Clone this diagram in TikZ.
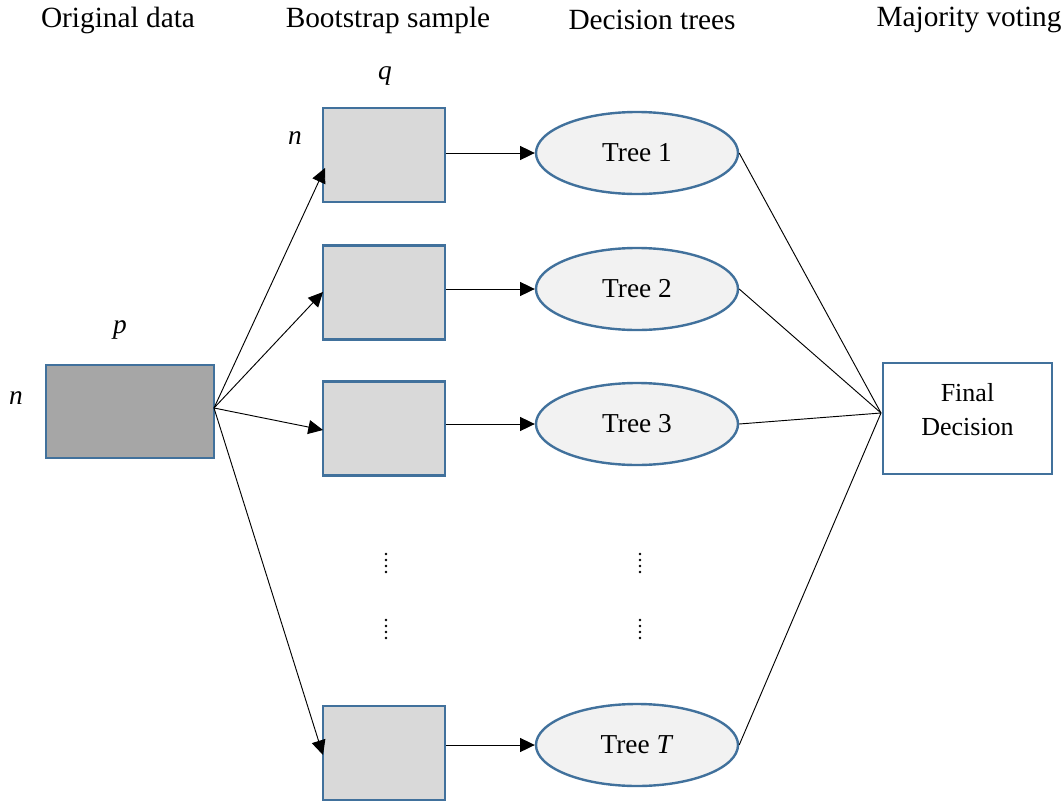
\documentclass[tikz,border=0pt]{standalone}
\usepackage{fontspec}
\setmainfont{Liberation Serif}
\usetikzlibrary{arrows.meta,shapes.geometric}
\definecolor{bord}{HTML}{41719C}
\definecolor{dark}{HTML}{A6A6A6}
\definecolor{light}{HTML}{D9D9D9}
\definecolor{pale}{HTML}{F2F2F2}
\begin{document}
\begin{tikzpicture}[x=0.75pt,y=-0.75pt,
  every node/.style={font=\fontsize{20.5}{26}\selectfont},
  head/.style={font=\fontsize{22}{26}\selectfont},
  databox/.style={draw=bord,line width=1.8pt,fill=dark,minimum width=126pt,minimum height=70pt,inner sep=0pt},
  sampbox/.style={draw=bord,line width=1.8pt,fill=light,minimum width=91.5pt,minimum height=70.5pt,inner sep=0pt},
  treenode/.style={draw=bord,line width=1.8pt,fill=pale,ellipse,minimum width=151.5pt,minimum height=61.5pt,inner sep=0pt},
  finalbox/.style={draw=bord,line width=1.8pt,fill=white,minimum width=126.75pt,minimum height=83.25pt,inner sep=0pt},
  fintext/.style={align=center,font=\fontsize{19.5}{26}\selectfont},
  arr/.style={-{Triangle[length=11pt,width=10.5pt]},line width=0.7pt},
  ln/.style={line width=0.7pt},
  dotm/.style={fill=black,circle,inner sep=0pt,minimum size=2.2pt}]
\useasboundingbox (0,0) rectangle (1064,803);
% headers
\node[head] (h1) at (118,20) {Original data};
\node[head] (h2) at (388,20) {Bootstrap sample};
\node[head] (h3) at (652,20) {Decision trees};
\node[head] (h4) at (969,20) {Majority voting};
% original data
\node[databox] (orig) at (130,411.5) {};
\node (p) at (120,330) {\itshape p};
\node (n0) at (16,398) {\itshape n};
% bootstrap boxes
\node[sampbox] (b1) at (384,155) {};
\node[sampbox] (b2) at (384,292.5) {};
\node[sampbox] (b3) at (384,428.5) {};
\node[sampbox] (bT) at (384,753) {};
\node (q) at (385,76) {\itshape q};
\node (n1) at (295,138) {\itshape n};
% trees
\node[treenode] (t1) at (637,153) {Tree 1};
\node[treenode] (t2) at (637,289) {Tree 2};
\node[treenode] (t3) at (637,424) {Tree 3};
\node[treenode] (tT) at (637,745) {Tree \textit{T}};
% final
\node[finalbox] (fin) at (967.5,418.5) {};
\node[fintext] (finlabel) at (967.5,409.5) {Final\\Decision};
% coordinates
\coordinate (src) at (214,408);
\coordinate (dst) at (881,413);
\coordinate (e1) at (325,168);
\coordinate (e2) at (323,292);
\coordinate (e3) at (323,430);
\coordinate (eT) at (323,755);
% arrows from original data
\draw[arr] (src) -- (e1);
\draw[arr] (src) -- (e2);
\draw[arr] (src) -- (e3);
\draw[arr] (src) -- (eT);
% arrows boxes to trees
\draw[arr] (b1.east |- t1.west) -- (t1.west);
\draw[arr] (b2.east |- t2.west) -- (t2.west);
\draw[arr] (b3.east |- t3.west) -- (t3.west);
\draw[arr] (bT.east |- tT.west) -- (tT.west);
% lines to final
\draw[ln] (t1.east) -- (dst);
\draw[ln] (t2.east) -- (dst);
\draw[ln] (t3.east) -- (dst);
\draw[ln] (tT.east) -- (dst);
% dots
\foreach \x in {386,640}{
  \foreach \y in {554,560,566,572,620,626,632,638}{
    \node[dotm] at (\x,\y) {};
  }
}
\end{tikzpicture}
\end{document}
